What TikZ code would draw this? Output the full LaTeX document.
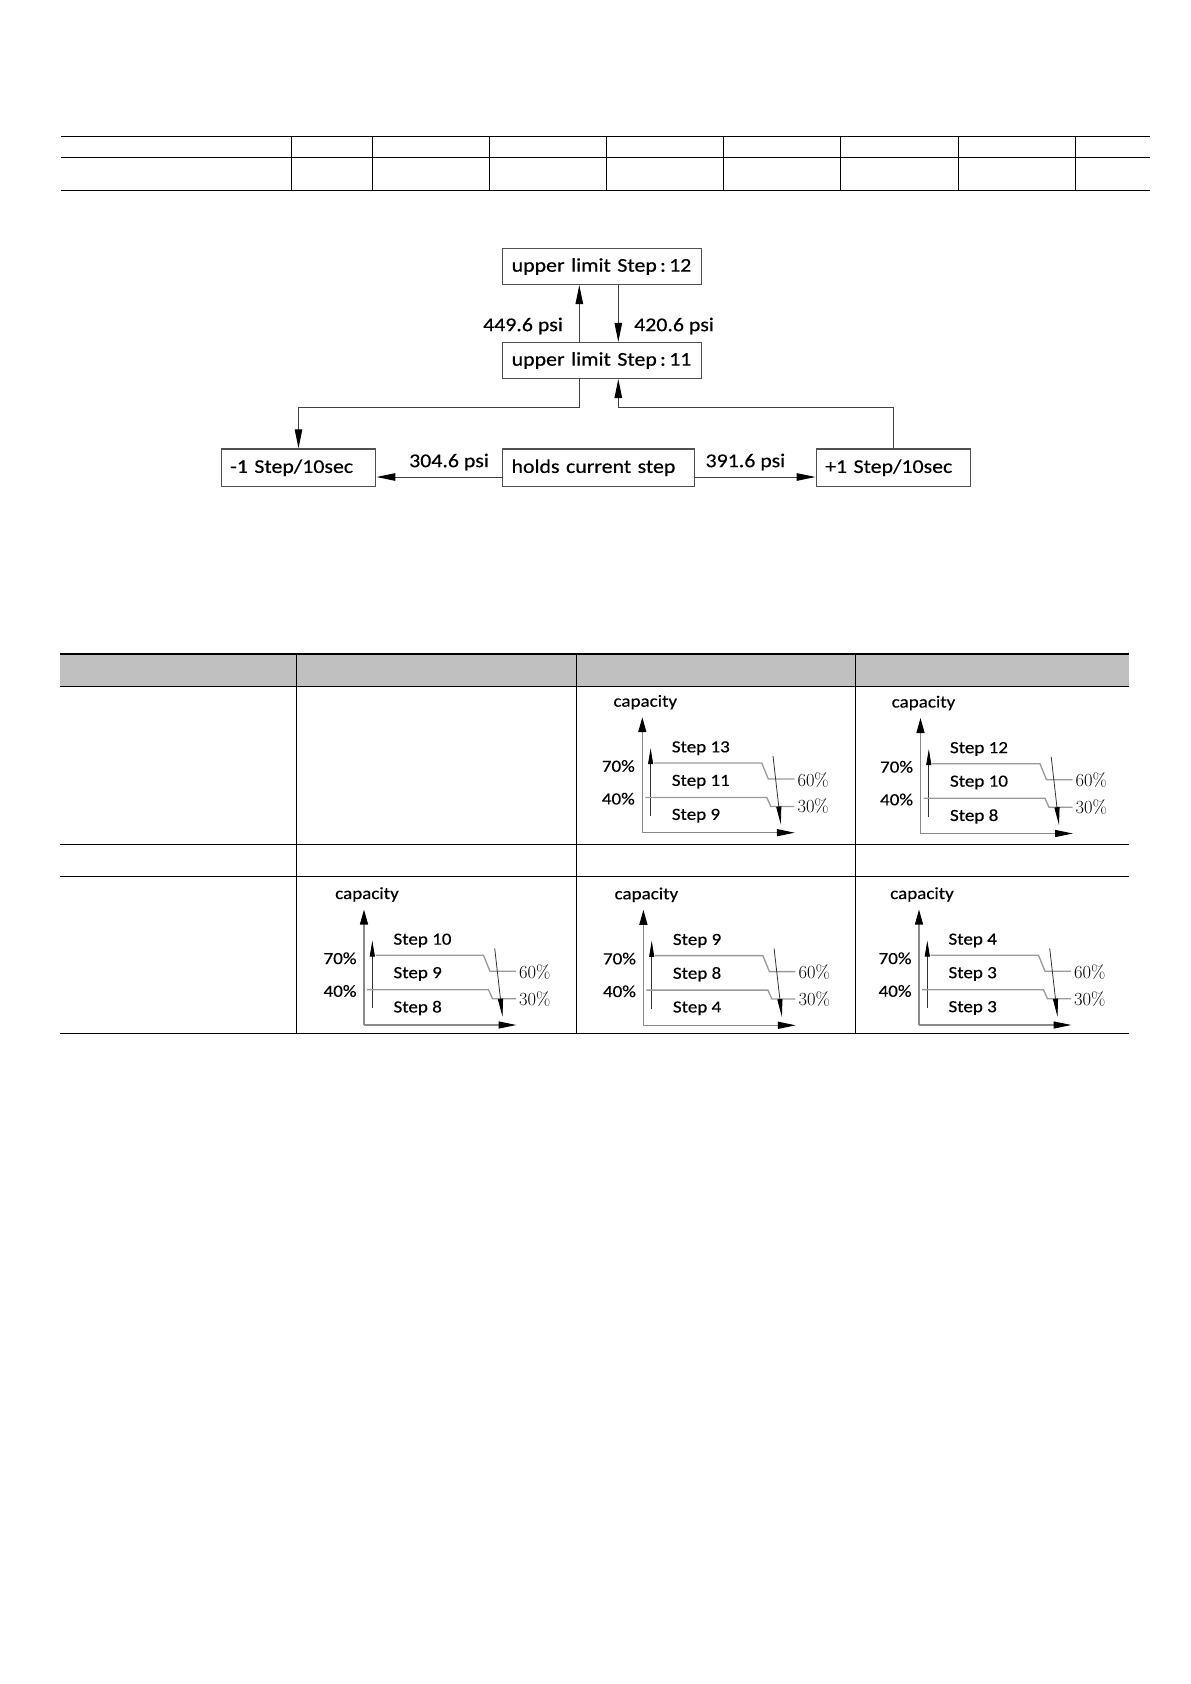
\documentclass[tikz,border=0pt]{standalone}
\usepackage{fontspec}
\newfontfamily\calfont[FakeStretch=1.12,FakeBold=0.4]{Carlito}
\usetikzlibrary{arrows.meta}
\definecolor{hdrgray}{HTML}{C0C0C0}
\definecolor{boxline}{HTML}{505050}
\definecolor{connline}{HTML}{404040}
\definecolor{axisgray}{HTML}{8A8A8A}
\definecolor{stepgray}{HTML}{9A9A9A}
\tikzset{
  rulethick/.style={line width=1.6pt,black},
  rulethin/.style={line width=1pt,black},
  dbox/.style={draw=boxline,line width=1.2pt,rectangle,inner sep=0pt,inner xsep=9pt,
     minimum height=36pt,align=left,font=\calfont\fontsize{19.5}{22}\selectfont},
  conn/.style={draw=connline,line width=1pt},
  dtip/.style={-{Triangle[length=19pt,width=7.5pt,color=black]}},
  dlabel/.style={font=\calfont\fontsize{19.5}{22}\selectfont,inner sep=0pt},
  axisline/.style={draw=axisgray,line width=1.3pt},
  stepline/.style={draw=stepgray,line width=1.3pt},
  thinblk/.style={draw=black!80,line width=0.8pt},
  clabel/.style={font=\calfont\fontsize{17}{20}\selectfont,inner sep=0pt},
  plabel/.style={font=\fontsize{18.5}{20}\selectfont,inner sep=0pt,text=black},
}
\newcommand\capchart[6]{%
  \begin{scope}[shift={(#1,#2)}]
    \coordinate (#6o) at (0,0);
    \coordinate (#6t) at (0,-115.5);
    \coordinate (#6r) at (152.5,0);
    \draw[axisline,-{Triangle[length=15pt,width=8pt,color=black]}] (#6o) -- (#6t);
    \draw[axisline,-{Triangle[length=18pt,width=7pt,color=black]}] (#6o) -- (#6r);
    \coordinate (#6ua) at (8.3,-16.7);
    \coordinate (#6ub) at (8.3,-84.5);
    \draw[thinblk,-{Triangle[length=16pt,width=5pt,color=black]}] (#6ua) -- (#6ub);
    \draw[stepline] (11.5,-69.7) -- (119.5,-69.7) -- (126,-53.7) -- (152,-53.7);
    \draw[stepline] (3,-35.2) -- (124.5,-35.2) -- (128.5,-26.3) -- (152,-26.3);
    \coordinate (#6da) at (130.7,-76.7);
    \coordinate (#6db) at (138.5,-8.3);
    \draw[thinblk,-{Triangle[length=18pt,width=5pt,color=black]}] (#6da) -- (#6db);
    \node[clabel] (#6cap) at (3,-130.5) {capacity};
    \node[clabel,anchor=west] (#6sa) at (29.3,-84.5) {#3};
    \node[clabel,anchor=west] (#6sb) at (29.3,-51) {#4};
    \node[clabel,anchor=west] (#6sc) at (29.3,-17) {#5};
    \node[clabel,anchor=east] (#6p70) at (-7.3,-66.7) {70\%};
    \node[clabel,anchor=east] (#6p40) at (-7.3,-34) {40\%};
    \node[plabel,anchor=west] (#6p60) at (155,-53) {60\%};
    \node[plabel,anchor=west] (#6p30) at (155,-26.3) {30\%};
  \end{scope}}
\begin{document}
\begin{tikzpicture}[x=1pt,y=-1pt]
\useasboundingbox[fill=white] (0,0) rectangle (1191,1684);

% ---------- top table ----------
\draw[rulethick] (61,136.4) -- (1150,136.4);
\draw[rulethin] (61,157) -- (1150,157);
\draw[rulethick] (61,190.3) -- (1150,190.3);
\foreach \x in {291.3,372,489.2,606.3,723.4,840.5,958.5,1075.6}
  \draw[rulethin] (\x,136.4) -- (\x,190.3);

% ---------- diagram ----------
\node[dbox,minimum width=198.6pt,text width=180.6pt] (b12) at (602,266.5) {upper limit Step\,:\,12};
\node[dbox,minimum width=198.6pt,text width=180.6pt] (b11) at (602,360.5) {upper limit Step\,:\,11};
\node[dbox,minimum width=154.7pt,text width=136.7pt,minimum height=37.6pt] (m1) at (298.5,467.7) {-1 Step/10sec};
\node[dbox,minimum width=192.3pt,text width=174.3pt,minimum height=37.6pt] (hold) at (598.7,467.7) {holds current step};
\node[dbox,minimum width=154.7pt,text width=136.7pt,minimum height=37.6pt] (p1) at (893.5,467.7) {+1 Step/10sec};

\coordinate (xa) at (579.3,0);
\coordinate (xb) at (618.3,0);
\coordinate (jy) at (0,407);

\draw[conn,dtip] (b11.north -| xa) -- (b12.south -| xa);
\draw[conn,dtip] (b12.south -| xb) -- (b11.north -| xb);
\draw[conn,dtip] (b11.south -| xa) -- (xa |- jy) -| (m1.north);
\draw[conn,dtip] (p1.north) -- (p1.north |- jy) -| (b11.south -| xb);
\draw[conn,dtip] ([yshift=-9.3pt]hold.west) -- ([yshift=-9.3pt]m1.east);
\draw[conn,dtip] ([yshift=-9.3pt]hold.east) -- ([yshift=-9.3pt]p1.west);

\node[dlabel,anchor=east] (l449) at (563,326) {449.6 psi};
\node[dlabel,anchor=west] (l420) at (634,326) {420.6 psi};
\node[dlabel] (l304) at (449,462) {304.6 psi};
\node[dlabel] (l391) at (745.4,462) {391.6 psi};

% ---------- bottom table ----------
\fill[hdrgray] (60,654) rectangle (1129,686.3);
\draw[rulethick] (60,654) -- (1129,654);
\draw[rulethin] (60,686.3) -- (1129,686.3);
\draw[rulethin] (60,844) -- (1129,844);
\draw[rulethin] (60,876.4) -- (1129,876.4);
\draw[line width=1.3pt] (60,1033.2) -- (1129,1033.2);
\foreach \x in {296.8,576,855}
  \draw[rulethin] (\x,654) -- (\x,1033.2);

% ---------- charts ----------
\capchart{642.3}{832.7}{Step 13}{Step 11}{Step 9}{ca}
\capchart{920.5}{833.5}{Step 12}{Step 10}{Step 8}{cb}
\capchart{364}{1025}{Step 10}{Step 9}{Step 8}{cc}
\capchart{643.4}{1025.3}{Step 9}{Step 8}{Step 4}{cd}
\capchart{919}{1025}{Step 4}{Step 3}{Step 3}{ce}
\end{tikzpicture}
\end{document}
